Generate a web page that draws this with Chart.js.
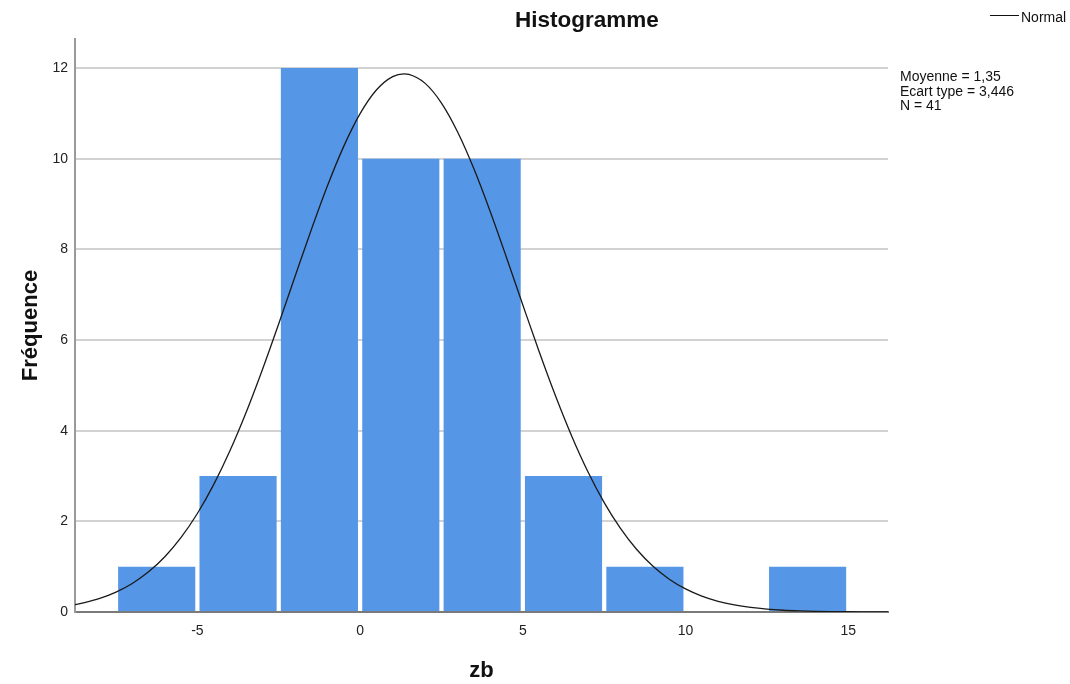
<!DOCTYPE html>
<html>
<head>
<meta charset="utf-8">
<script src="https://cdn.jsdelivr.net/npm/chart.js@4/dist/chart.umd.min.js"></script>
<style>
  html, body { margin: 0; padding: 0; background: #fff; }
  #wrap { position: relative; width: 1070px; height: 684px; font-family: "Liberation Sans", Arial, sans-serif; }
  #c { position: absolute; left: 0; top: 0; }
  .title { position: absolute; left: 487px; top: 6px; width: 200px; text-align: center; font-weight: bold; font-size: 22.5px; line-height: 28px; color: #111; }
  .legend { position: absolute; left: 990px; top: 9px; font-size: 14px; line-height: 17px; color: #111; }
  .legend .swatch { display: inline-block; width: 29px; border-top: 1.4px solid #111; vertical-align: middle; margin-right: 2px; position: relative; top: -3px; }
  .stats { position: absolute; left: 900px; top: 69px; font-size: 14px; line-height: 14.7px; color: #111; }
</style>
</head>
<body>
<div id="wrap">
  <canvas id="c" width="1070" height="684"></canvas>
  <div class="title">Histogramme</div>
  <div class="legend"><span class="swatch"></span>Normal</div>
  <div class="stats">Moyenne = 1,35<br>Ecart type = 3,446<br>N = 41</div>
</div>
<script>
// Histogram bins (centers, width 2.5) and counts
const binCenters = [-6.25, -3.75, -1.25, 1.25, 3.75, 6.25, 8.75, 11.25, 13.75];
const counts     = [1, 3, 12, 10, 10, 3, 1, 0, 1];

// Normal curve
const curveX = [-8.76, -8.5, -8, -7.5, -7, -6.5, -6, -5.5, -5, -4.5, -4, -3.5, -3, -2.5, -2, -1.5, -1, -0.5, 0, 0.5, 1, 1.35, 1.5, 2, 2.5, 3, 3.5, 4, 4.5, 5, 5.5, 6, 6.5, 7, 7.5, 8, 8.5, 9, 9.5, 10, 10.5, 11, 11.5, 12, 12.5, 13, 13.5, 14, 14.5, 15, 15.5, 16, 16.22];
const curveY = [0.160, 0.200, 0.299, 0.439, 0.630, 0.886, 1.220, 1.646, 2.173, 2.810, 3.557, 4.408, 5.351, 6.359, 7.400, 8.431, 9.407, 10.277, 10.993, 11.514, 11.809, 11.870, 11.859, 11.661, 11.227, 10.584, 9.771, 8.831, 7.816, 6.773, 5.747, 4.776, 3.885, 3.095, 2.414, 1.845, 1.379, 1.010, 0.724, 0.509, 0.350, 0.235, 0.155, 0.100, 0.063, 0.039, 0.024, 0.014, 0.008, 0.005, 0.003, 0.001, 0.001];

// Axis ticks
const xTicks = [-5, 0, 5, 10, 15];
const yTicks = [0, 2, 4, 6, 8, 10, 12];

const FONT = "'Liberation Sans', Arial, sans-serif";

new Chart(document.getElementById('c'), {
  type: 'bar',
  data: {
    datasets: [
      {
        type: 'line',
        label: 'Normal',
        data: curveX.map((x, i) => ({ x: x, y: curveY[i] })),
        borderColor: '#1a1a1a',
        borderWidth: 1.3,
        pointRadius: 0,
        fill: false,
        cubicInterpolationMode: 'monotone',
        order: 0
      },
      {
        type: 'bar',
        label: 'Fréquence',
        data: binCenters.map((x, i) => ({ x: x, y: counts[i] })),
        backgroundColor: '#5596E6',
        borderWidth: 0,
        barPercentage: 0.948,
        categoryPercentage: 1.0,
        order: 1
      }
    ]
  },
  options: {
    responsive: false,
    animation: false,
    layout: { padding: { top: 39, right: 182, left: 0, bottom: 0 } },
    plugins: { legend: { display: false }, tooltip: { enabled: false }, title: { display: false } },
    scales: {
      x: {
        type: 'linear',
        min: -8.76,
        max: 16.22,
        offset: false,
        grid: { display: false, drawTicks: false },
        border: { display: true, color: '#7a7a7a', width: 2 },
        afterBuildTicks: (s) => { s.ticks = xTicks.map(v => ({ value: v })); },
        ticks: { font: { family: FONT, size: 14 }, color: '#222', padding: 11, maxRotation: 0 },
        title: { display: true, text: 'zb', font: { family: FONT, size: 22, weight: 'bold' }, color: '#111', padding: { top: 0, bottom: 0 } },
        afterFit: (s) => { s.height = 72; }
      },
      y: {
        min: 0,
        max: 12.64,
        grid: { color: '#d2d2d2', lineWidth: 2, drawTicks: false },
        border: { display: true, color: '#9a9a9a', width: 2 },
        afterBuildTicks: (s) => { s.ticks = yTicks.map(v => ({ value: v })); },
        ticks: { font: { family: FONT, size: 14 }, color: '#222', padding: 7 },
        title: { display: true, text: 'Fréquence', font: { family: FONT, size: 22, weight: 'bold' }, color: '#111', padding: { top: 18, bottom: 0 } },
        afterFit: (s) => { s.width = 75; }
      }
    }
  }
});
</script>
</body>
</html>
